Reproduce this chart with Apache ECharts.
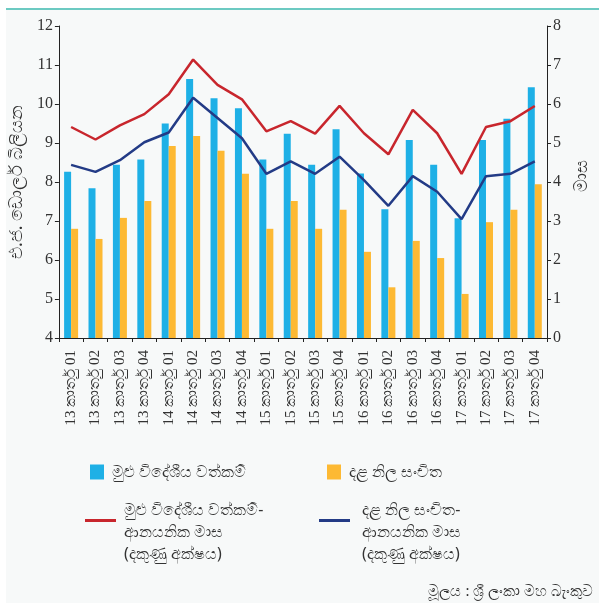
<!DOCTYPE html>
<html>
<head>
<meta charset="utf-8">
<script src="https://cdn.jsdelivr.net/npm/echarts@6/dist/echarts.min.js"></script>
<style>
html,body{margin:0;padding:0;background:#ffffff;}
#bg{position:absolute;left:6px;top:10px;width:593px;height:593px;background:#f7f9f9;}
#topline{position:absolute;left:6px;top:8px;width:593px;height:2px;background:#6ccac2;}
#chart{position:absolute;left:0;top:0;width:599px;height:603px;}
</style>
</head>
<body>
<div id="bg"></div>
<div id="topline"></div>
<div id="chart"></div>
<script>
const categories = [
  "13 කාර්තු 01","13 කාර්තු 02","13 කාර්තු 03","13 කාර්තු 04",
  "14 කාර්තු 01","14 කාර්තු 02","14 කාර්තු 03","14 කාර්තු 04",
  "15 කාර්තු 01","15 කාර්තු 02","15 කාර්තු 03","15 කාර්තු 04",
  "16 කාර්තු 01","16 කාර්තු 02","16 කාර්තු 03","16 කාර්තු 04",
  "17 කාර්තු 01","17 කාර්තු 02","17 කාර්තු 03","17 කාර්තු 04"
];
const totalAssets = [8.26,7.84,8.44,8.58,9.50,10.64,10.15,9.89,8.58,9.24,8.44,9.35,8.22,7.30,9.08,8.44,7.07,9.08,9.62,10.43];
const grossReserves = [6.80,6.54,7.08,7.51,8.92,9.18,8.80,8.21,6.80,7.51,6.80,7.29,6.21,5.30,6.49,6.05,5.13,6.97,7.29,7.94];
const assetsImportMonths = [5.41,5.09,5.45,5.74,6.25,7.14,6.49,6.12,5.30,5.56,5.24,5.95,5.25,4.71,5.85,5.25,4.21,5.41,5.56,5.95];
const reservesImportMonths = [4.44,4.26,4.56,5.02,5.27,6.16,5.64,5.12,4.21,4.53,4.21,4.65,4.05,3.39,4.15,3.75,3.05,4.15,4.21,4.53];
const leftTicks = {min:4, max:12, interval:1};
const rightTicks = {min:0, max:8, interval:1};

const names = {
  assets: "මුළු විදේශීය වත්කම්",
  reserves: "දළ නිල සංචිත",
  assetsM: "මුළු විදේශීය වත්කම්-\nආනයනික මාස\n(දකුණු අක්ෂය)",
  reservesM: "දළ නිල සංචිත-\nආනයනික මාස\n(දකුණු අක්ෂය)"
};

const serif = "'Liberation Serif','DejaVu Serif',serif";
const sans = "'Noto Sans','DejaVu Sans',sans-serif";
const txt = '#333333';
// line-legend icon: thin bar at the top of a taller (invisible) box
const lineIcon = 'path://M0,0L31,0L31,3L0,3Z M0,26L31,26';

const chart = echarts.init(document.getElementById('chart'));
const axisCommon = {
  axisLine:{show:true, lineStyle:{color:'#222', width:1}},
  axisTick:{show:true, length:4, lineStyle:{color:'#222'}},
  splitLine:{show:false},
  axisLabel:{fontFamily:serif, fontSize:16, color:txt, margin:6}
};
chart.setOption({
  animation:false,
  backgroundColor:'transparent',
  grid:{left:53, right:52, top:26, bottom:265, containLabel:false},
  xAxis:{
    type:'category', data:categories, boundaryGap:true,
    axisLine:{show:true, lineStyle:{color:'#222', width:1}},
    axisTick:{show:true, length:4, alignWithLabel:false, lineStyle:{color:'#222'}},
    axisLabel:{rotate:90, fontFamily:serif, fontSize:15, color:txt, margin:12, interval:0}
  },
  yAxis:[
    Object.assign({type:'value', position:'left', min:leftTicks.min, max:leftTicks.max, interval:leftTicks.interval,
      name:"එ.ජ. ඩොලර් බිලියන", nameLocation:'middle', nameGap:22, nameRotate:90,
      nameTextStyle:{fontFamily:sans, fontSize:18, color:txt}}, axisCommon),
    Object.assign({type:'value', position:'right', min:rightTicks.min, max:rightTicks.max, interval:rightTicks.interval,
      name:"මාස", nameLocation:'middle', nameGap:26, nameRotate:90,
      nameTextStyle:{fontFamily:sans, fontSize:18, color:txt, padding:[0,0,0,12]}}, axisCommon)
  ],
  legend:[
    {data:[{name:names.assets, icon:'rect'}], left:85, top:459, itemWidth:14, itemHeight:15, itemGap:0,
     textStyle:{fontFamily:sans, fontSize:16, color:txt, padding:[0,0,0,3]}},
    {data:[{name:names.reserves, icon:'rect'}], left:322, top:459, itemWidth:14, itemHeight:15, itemGap:0,
     textStyle:{fontFamily:sans, fontSize:16, color:txt, padding:[0,0,0,3]}},
    {data:[{name:names.assetsM, icon:lineIcon}], left:80, top:494, itemWidth:31, itemHeight:26, itemGap:0,
     textStyle:{fontFamily:sans, fontSize:16, lineHeight:22, color:txt, padding:[0,0,0,3]}},
    {data:[{name:names.reservesM, icon:lineIcon}], left:314, top:494, itemWidth:31, itemHeight:26, itemGap:0,
     textStyle:{fontFamily:sans, fontSize:16, lineHeight:22, color:txt, padding:[0,0,0,7]}}
  ],
  graphic:[
    {type:'text', right:6, top:584, style:{text:"මූලය : ශ්‍රී ලංකා මහ බැංකුව", font:"15px 'Noto Sans',sans-serif", fill:txt}}
  ],
  series:[
    {name:names.assets, type:'bar', data:totalAssets, barWidth:7, barGap:'0%',
     itemStyle:{color:'#1eb0e6'}},
    {name:names.reserves, type:'bar', data:grossReserves, barWidth:7, barGap:'0%',
     itemStyle:{color:'#fdb933'}},
    {name:names.assetsM, type:'line', yAxisIndex:1, data:assetsImportMonths, symbol:'none',
     lineStyle:{color:'#c8262d', width:2.5}, itemStyle:{color:'#c8262d'}},
    {name:names.reservesM, type:'line', yAxisIndex:1, data:reservesImportMonths, symbol:'none',
     lineStyle:{color:'#233b86', width:2.5}, itemStyle:{color:'#233b86'}}
  ]
});
</script>
</body>
</html>
